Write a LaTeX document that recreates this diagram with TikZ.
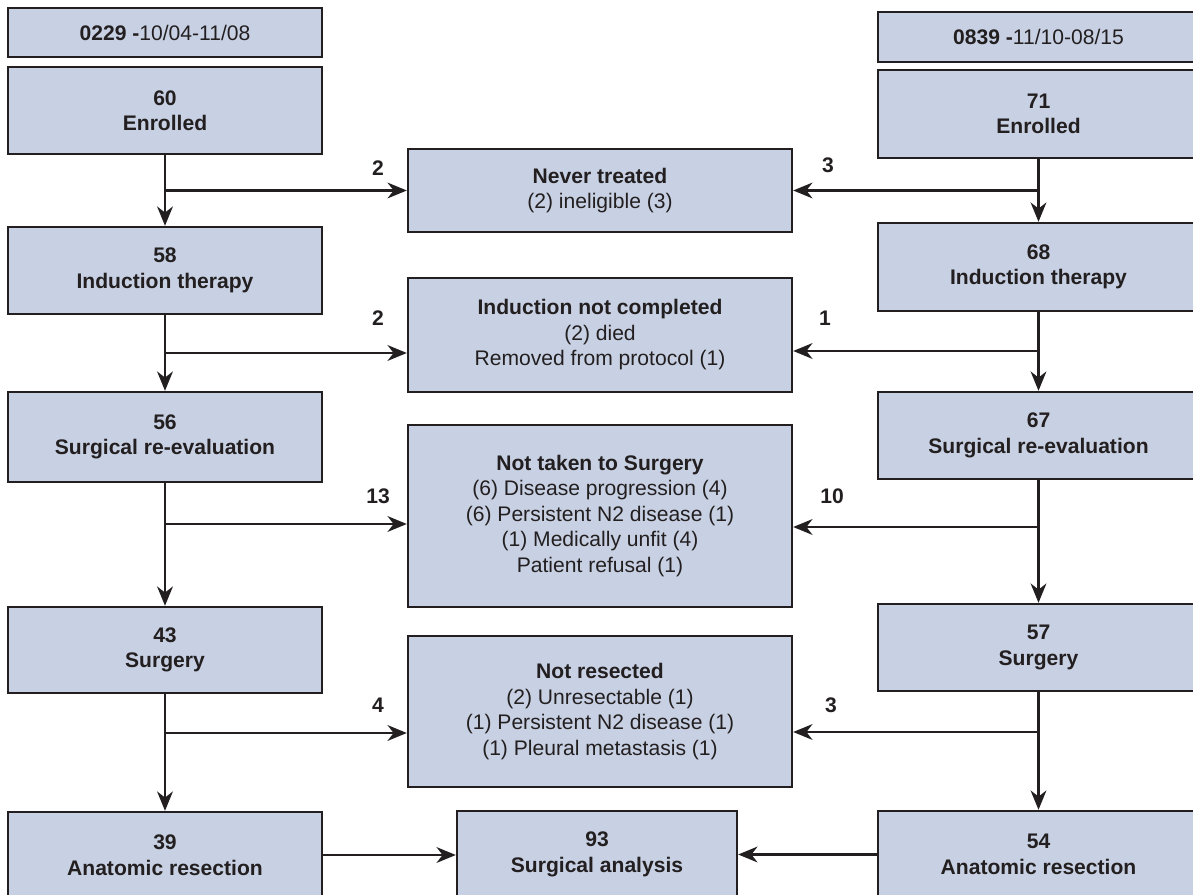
\documentclass[tikz,border=0pt]{standalone}
\usepackage{fontspec}
\setmainfont{Liberation Sans}
\usetikzlibrary{arrows.meta,positioning}
\definecolor{boxfill}{RGB}{200,209,227}
\definecolor{ink}{RGB}{35,31,32}

\begin{document}
\begin{tikzpicture}[
  x=0.02cm, y=-0.02cm,
  font=\fontsize{12}{14.5}\selectfont, >={Stealth[length=11pt,width=9pt,inset=3.5pt]},
  flow/.style={draw=ink, line width=1.4pt, fill=boxfill, text=ink, align=center, inner sep=1mm},
  colA/.style={flow, minimum width=6.28cm},
  colB/.style={flow, minimum width=6.42cm},
  lossbox/.style={flow, minimum width=7.68cm},
  link/.style={draw=ink, line width=1.2pt},
  count/.style={font=\fontsize{12}{14.5}\selectfont\bfseries, text=ink, inner sep=0pt},
]
\useasboundingbox (0,0) rectangle (1193,895);

% left trial (0229)
\node[colA, minimum height=0.98cm] (hdrA) at (165,32.5) {\textbf{0229 -}10/04-11/08};
\node[colA, minimum height=1.74cm] (enrA) at (165,110.5) {\textbf{60}\\\textbf{Enrolled}};
\node[colA, minimum height=1.74cm] (indA) at (165,270.5) {\textbf{58}\\\textbf{Induction therapy}};
\node[colA, minimum height=1.80cm] (sreA) at (165,437) {\textbf{56}\\\textbf{Surgical re-evaluation}};
\node[colA, minimum height=1.72cm] (surA) at (165,650) {\textbf{43}\\\textbf{Surgery}};
\node[colA, minimum height=1.72cm] (resA) at (165,855) {\textbf{39}\\\textbf{Anatomic resection}};

% right trial (0839) -- runs off the right edge as in the source
\node[colB, minimum height=1.00cm] (hdrB) at (1038.5,37) {\textbf{0839 -}11/10-08/15};
\node[colB, minimum height=1.76cm] (enrB) at (1038.5,114) {\textbf{71}\\\textbf{Enrolled}};
\node[colB, minimum height=1.76cm] (indB) at (1038.5,267) {\textbf{68}\\\textbf{Induction therapy}};
\node[colB, minimum height=1.74cm] (sreB) at (1038.5,435.5) {\textbf{67}\\\textbf{Surgical re-evaluation}};
\node[colB, minimum height=1.74cm] (surB) at (1038.5,647.5) {\textbf{57}\\\textbf{Surgery}};
\node[colB, minimum height=1.74cm] (resB) at (1038.5,854.5) {\textbf{54}\\\textbf{Anatomic resection}};

% shared drop-out boxes in the middle
\node[lossbox, minimum height=1.66cm] (never) at (600,190.5) {\textbf{Never treated}\\(2) ineligible (3)};
\node[lossbox, minimum height=2.28cm] (indnc) at (600,335) {\textbf{Induction not completed}\\(2) died\\Removed from protocol (1)};
\node[lossbox, minimum height=3.64cm] (nts) at (600,516) {\textbf{Not taken to Surgery}\\(6) Disease progression (4)\\(6) Persistent N2 disease (1)\\(1) Medically unfit (4)\\Patient refusal (1)};
\node[lossbox, minimum height=3.02cm] (nres) at (600,711.5) {\textbf{Not resected}\\(2) Unresectable (1)\\(1) Persistent N2 disease (1)\\(1) Pleural metastasis (1)};
\node[flow, minimum width=5.6cm, minimum height=1.74cm] (ana) at (597,854.5) {\textbf{93}\\\textbf{Surgical analysis}};

% main flow
\draw[link,->] (enrA) -- (indA);
\draw[link,->] (indA) -- (sreA);
\draw[link,->] (sreA) -- (surA);
\draw[link,->] (surA) -- (resA);
\draw[link,->] (enrB) -- (indB);
\draw[link,->] (indB) -- (sreB);
\draw[link,->] (sreB) -- (surB);
\draw[link,->] (surB) -- (resB);

% junctions on the vertical lines
\coordinate (jA1) at (165,190.5);
\coordinate (jB1) at (1038.5,190.5);
\coordinate (jA2) at (165,353);
\coordinate (jB2) at (1038.5,351);
\coordinate (jA3) at (165,524);
\coordinate (jB3) at (1038.5,527);
\coordinate (jA4) at (165,733);
\coordinate (jB4) at (1038.5,732);

% branches to the drop-out boxes
\draw[link,->] (jA1) -- (jA1 -| never.west);
\draw[link,->] (jB1) -- (jB1 -| never.east);
\draw[link,->] (jA2) -- (jA2 -| indnc.west);
\draw[link,->] (jB2) -- (jB2 -| indnc.east);
\draw[link,->] (jA3) -- (jA3 -| nts.west);
\draw[link,->] (jB3) -- (jB3 -| nts.east);
\draw[link,->] (jA4) -- (jA4 -| nres.west);
\draw[link,->] (jB4) -- (jB4 -| nres.east);
\draw[link,->] (resA.east) -- (resA.east -| ana.west);
\draw[link,->] (resB.west) -- (resB.west -| ana.east);

% counts
\node[count] (cA1) at (378,168) {2};
\node[count] (cB1) at (828,165) {3};
\node[count] (cA2) at (378,318) {2};
\node[count] (cB2) at (825,318) {1};
\node[count] (cA3) at (378,496) {13};
\node[count] (cB3) at (832,496) {10};
\node[count] (cA4) at (378,705) {4};
\node[count] (cB4) at (831,705) {3};

\end{tikzpicture}
\end{document}
